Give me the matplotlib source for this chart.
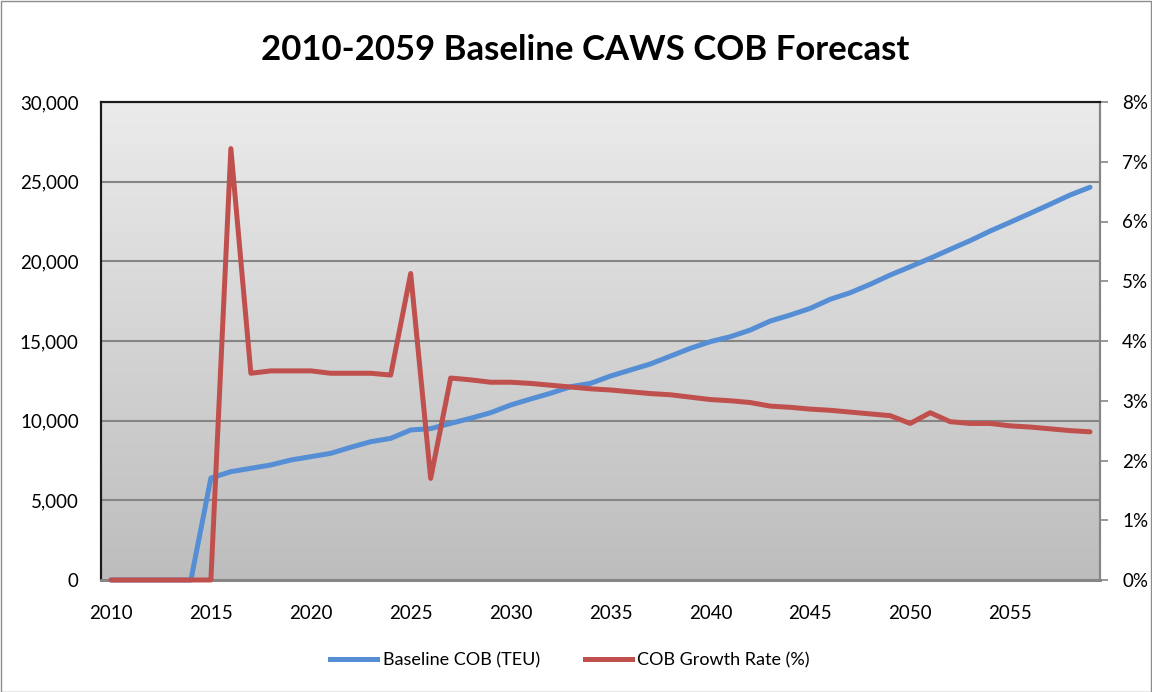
import matplotlib
matplotlib.use("Agg")
import matplotlib.pyplot as plt
import numpy as np
from matplotlib.ticker import FuncFormatter, MultipleLocator
from matplotlib.lines import Line2D
from matplotlib.patches import Rectangle
from matplotlib.colors import LinearSegmentedColormap

years = list(range(2010, 2060))
baseline_teu = [0, 0, 0, 0, 0,
                6400, 6800, 7010, 7220, 7530, 7740, 7950, 8330, 8680, 8890,
                9415, 9500, 9830, 10150, 10500, 10980, 11360, 11720, 12130, 12340,
                12800, 13180, 13560, 14050, 14540, 14960, 15270, 15690, 16255, 16630,
                17050, 17620, 18030, 18560, 19140, 19660, 20190, 20750, 21300, 21900,
                22450, 23010, 23580, 24160, 24650]
growth_pct = [0, 0, 0, 0, 0, 0,
              7.22, 3.46, 3.50, 3.50, 3.50, 3.46, 3.46, 3.46, 3.43,
              5.13, 1.70, 3.38, 3.35, 3.31, 3.31, 3.29, 3.26, 3.23, 3.20,
              3.18, 3.15, 3.12, 3.10, 3.06, 3.02, 3.00, 2.97, 2.91, 2.89,
              2.86, 2.84, 2.81, 2.78, 2.75, 2.62, 2.80, 2.65, 2.62, 2.62,
              2.58, 2.56, 2.53, 2.50, 2.48]
title = "2010-2059 Baseline CAWS COB Forecast"
label_teu = "Baseline COB (TEU)"
label_pct = "COB Growth Rate (%)"

FONT = ["Lato", "DejaVu Sans"]
plt.rcParams["font.family"] = FONT

W, H = 1152, 692
fig = plt.figure(figsize=(W / 100, H / 100), dpi=100)
fig.patch.set_facecolor("white")
fig.add_artist(Rectangle((0.5 / W, 0.5 / H), 1 - 1.5 / W, 1 - 1.5 / H, transform=fig.transFigure,
                         fill=False, edgecolor="#8c8c8c", linewidth=1.0))

L, R, T, B = 101, 1100, 102, 580
ax = fig.add_axes([L / W, 1 - B / H, (R - L) / W, (B - T) / H])
ax2 = ax.twinx()

# gradient background: light at top, darker at bottom
grad = np.linspace(0, 1, 256).reshape(-1, 1)
cmap = LinearSegmentedColormap.from_list("g", ["#ebebeb", "#bdbdbd"])
ax.imshow(grad, aspect="auto", cmap=cmap, extent=[0, 1, 0, 1], origin="upper",
          transform=ax.transAxes, zorder=0)

blue = "#558ed5"
red = "#c0504d"

ax.plot(years, baseline_teu, color=blue, lw=3.6, solid_capstyle="round",
        solid_joinstyle="round", zorder=3, clip_on=False)
ax2.plot(years, growth_pct, color=red, lw=3.6, solid_capstyle="round",
         solid_joinstyle="round", zorder=3, clip_on=False)

ax.set_xlim(2009.5, 2059.5)
ax.set_ylim(0, 30000)
ax2.set_ylim(0, 8)

ax.yaxis.set_major_locator(MultipleLocator(5000))
ax.yaxis.set_major_formatter(FuncFormatter(lambda v, p: f"{int(v):,}"))
ax2.yaxis.set_major_locator(MultipleLocator(1))
ax2.yaxis.set_major_formatter(FuncFormatter(lambda v, p: f"{int(round(v))}%"))
ax.set_xticks(list(range(2010, 2060, 5)))

ax.grid(axis="y", color="#858585", lw=1.5, zorder=1)
ax.set_axisbelow(True)

ax.tick_params(axis="y", length=0, pad=16, labelsize=13.5, labelcolor="black")
ax.tick_params(axis="x", length=0, pad=18, labelsize=13.5, labelcolor="black")
ax2.tick_params(axis="y", length=6, width=1.2, color="#868686", pad=10, labelsize=13.5)

for a in (ax, ax2):
    a.spines["left"].set_color("#1a1a1a")
    a.spines["left"].set_linewidth(1.5)
    a.spines["top"].set_color("#1a1a1a")
    a.spines["top"].set_linewidth(1.5)
    a.spines["right"].set_color("#868686")
    a.spines["right"].set_linewidth(1.5)
    a.spines["bottom"].set_color("#868686")
    a.spines["bottom"].set_linewidth(2.0)
ax2.patch.set_visible(False)

fig.text(585 / W, 1 - 50 / H, title, ha="center", va="center", fontsize=25,
         fontweight="bold", color="black")

handles = [Line2D([], [], color=blue, lw=3.6), Line2D([], [], color=red, lw=3.6)]
fig.legend(handles, [label_teu, label_pct], loc="center", ncol=2,
           bbox_to_anchor=(570 / W, 1 - 660 / H), frameon=False, fontsize=13,
           handlelength=2.6, handletextpad=0.3, columnspacing=2.5)

fig.savefig("out.png", dpi=100)
